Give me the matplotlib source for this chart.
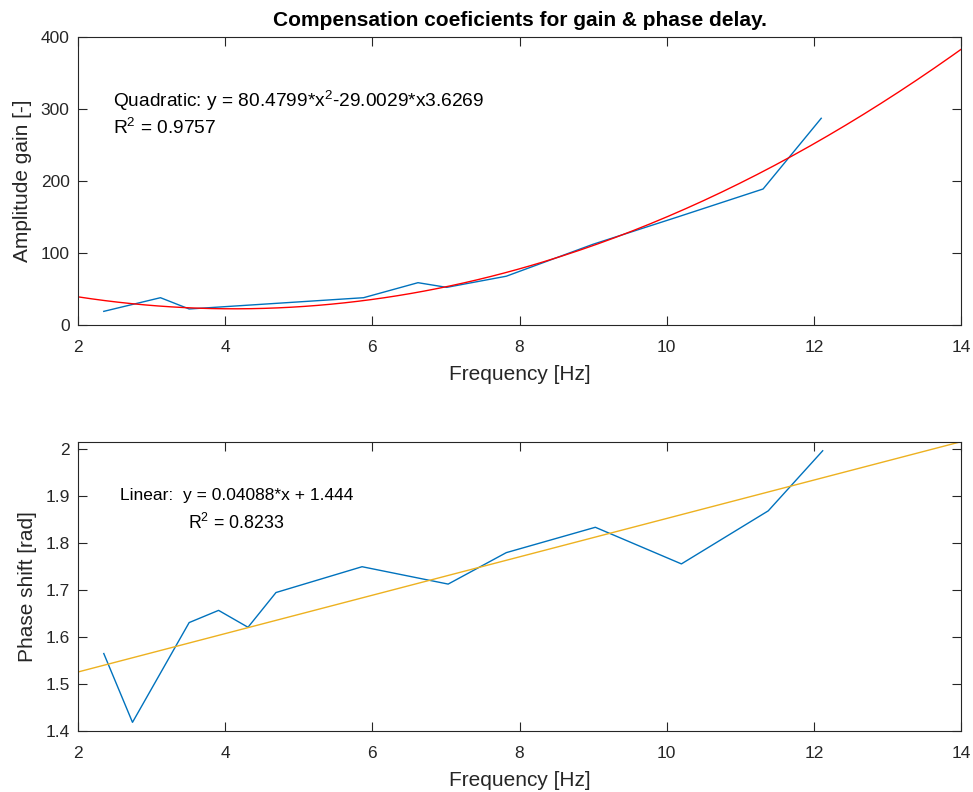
import numpy as np
import matplotlib
matplotlib.use("Agg")
from matplotlib import pyplot as plt

plt.rcParams["font.family"] = ["Liberation Sans", "DejaVu Sans"]
plt.rcParams["mathtext.default"] = "regular"

# measured gain (top) and phase (bottom)
freq_gain = [2.35, 3.12, 3.51, 5.88, 6.62, 7.01, 7.82, 9.0, 10.15, 11.31, 12.10]
gain = [18.6, 37.6, 21.9, 37.6, 58.5, 52.0, 67.5, 112.0, 150.0, 188.9, 287.3]

freq_phase = [2.35, 2.74, 3.51, 3.91, 4.31, 4.69, 5.86, 7.03, 7.82, 9.03, 10.2, 11.38, 12.12]
phase = [1.565, 1.4185, 1.631, 1.657, 1.621, 1.695, 1.750, 1.713, 1.780, 1.834, 1.756, 1.869, 1.997]

# fitted curves (quadratic in Hz, linear from the label)
quad_coef = [3.70, -30.5, 85.0]
lin_coef = [0.04088, 1.444]
fit_range = [2, 14]

col_data = "#0072BD"
col_quad = "#FF0000"
col_lin = "#EDB120"
axcol = "#262626"

fig = plt.figure(figsize=(9.73, 7.92), dpi=100)
ax1 = fig.add_axes([0.0802, 0.590, 0.9075, 0.3629])
ax2 = fig.add_axes([0.0802, 0.0770, 0.9075, 0.3653])

xf = np.linspace(fit_range[0], fit_range[1], 200)

ax1.plot(freq_gain, gain, color=col_data, lw=1.0)
ax1.plot(xf, np.polyval(quad_coef, xf), color=col_quad, lw=1.0)
ax1.set_xlim(2, 14)
ax1.set_ylim(0, 400)
ax1.set_xticks([2, 4, 6, 8, 10, 12, 14])
ax1.set_yticks([0, 100, 200, 300, 400])
ax1.set_xlabel("Frequency [Hz]", fontsize=15, color=axcol, labelpad=7)
ax1.set_ylabel("Amplitude gain [-]", fontsize=15, color=axcol, labelpad=6)
ax1.set_title("Compensation coeficients for gain & phase delay.",
              fontsize=15, fontweight="bold", pad=8)
ax1.text(2.48, 303, "Quadratic: y = 80.4799*x$^{2}$-29.0029*x3.6269",
         fontsize=13.8, va="baseline", ha="left")
ax1.text(2.48, 266, "R$^{2}$ = 0.9757", fontsize=13.8, va="baseline", ha="left")

ax2.plot(freq_phase, phase, color=col_data, lw=1.0)
ax2.plot(xf, np.polyval(lin_coef, xf), color=col_lin, lw=1.0)
ax2.set_xlim(2, 14)
ax2.set_ylim(1.4, np.polyval(lin_coef, 14))
ax2.set_xticks([2, 4, 6, 8, 10, 12, 14])
ax2.set_yticks([1.4, 1.5, 1.6, 1.7, 1.8, 1.9, 2.0])
ax2.set_yticklabels(["1.4", "1.5", "1.6", "1.7", "1.8", "1.9", "2"])
ax2.set_xlabel("Frequency [Hz]", fontsize=15, color=axcol, labelpad=7)
ax2.set_ylabel("Phase shift [rad]", fontsize=15, color=axcol, labelpad=6)
ax2.text(4.15, 1.892, "Linear:  y = 0.04088*x + 1.444",
         fontsize=12.5, va="baseline", ha="center")
ax2.text(4.15, 1.830, "R$^{2}$ = 0.8233", fontsize=12.8, va="baseline", ha="center")

for ax in (ax1, ax2):
    ax.tick_params(direction="in", length=6.5, width=0.8, top=True, right=True,
                   labelsize=12.5, colors=axcol, pad=6)
    ax.tick_params(axis="x", pad=11)
    for sp in ax.spines.values():
        sp.set_color(axcol)
        sp.set_linewidth(0.8)

fig.savefig("out.png", dpi=100)
